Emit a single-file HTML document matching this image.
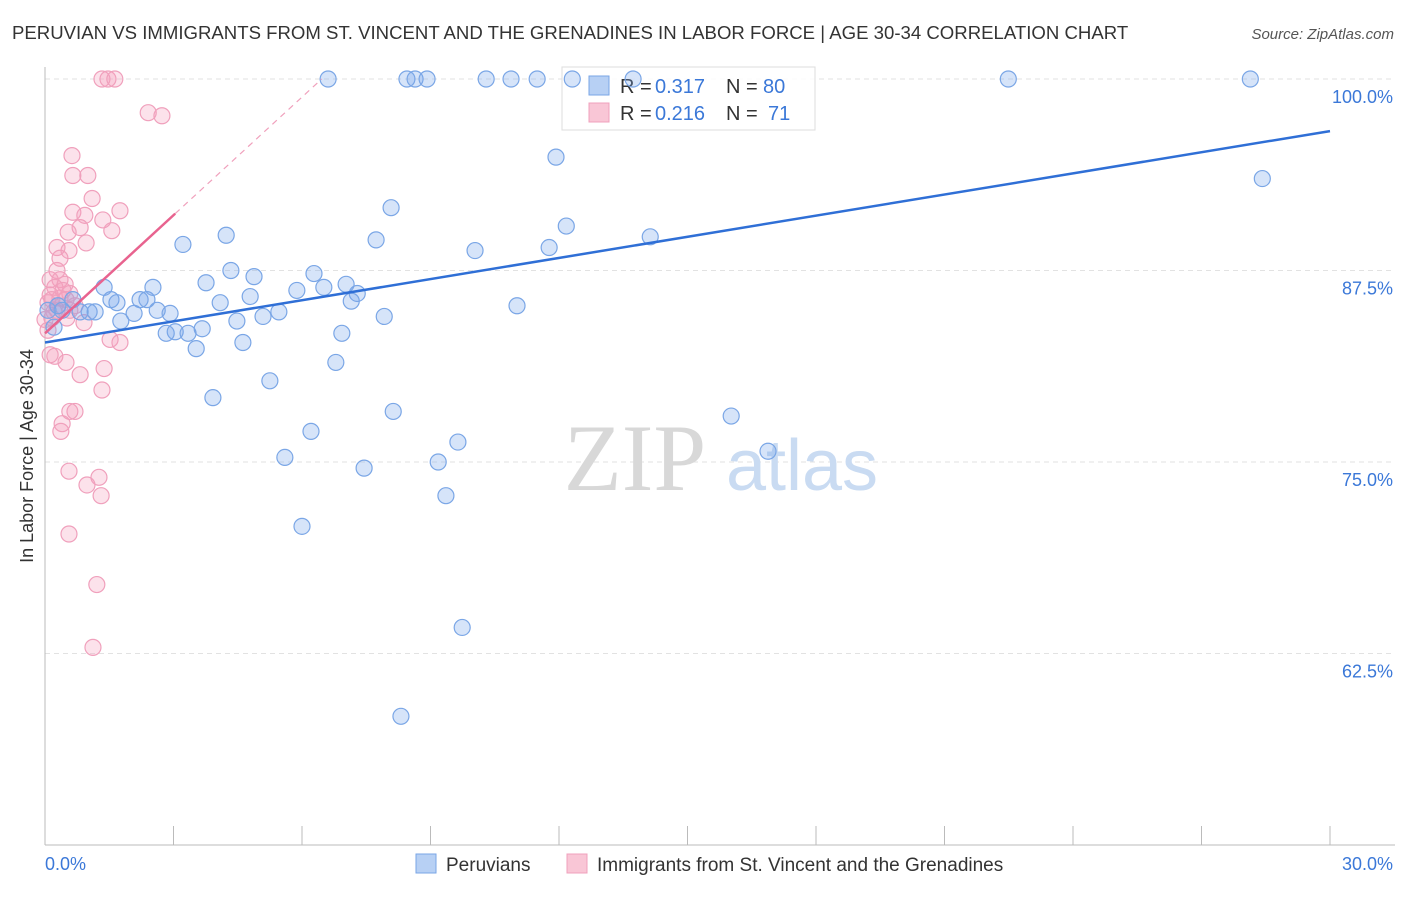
<!DOCTYPE html>
<html><head><meta charset="utf-8">
<style>
body{margin:0;background:#fff;font-family:"Liberation Sans",sans-serif;}
svg text{font-family:"Liberation Sans",sans-serif;}
</style></head>
<body>
<svg id="chart" width="1406" height="892" xmlns="http://www.w3.org/2000/svg">
<text x="12" y="39" font-size="18.6" fill="#333">PERUVIAN VS IMMIGRANTS FROM ST. VINCENT AND THE GRENADINES IN LABOR FORCE | AGE 30-34 CORRELATION CHART</text>
<text x="1394" y="39" font-size="15" fill="#555" text-anchor="end" font-style="italic">Source: ZipAtlas.com</text>
<text transform="translate(33,456) rotate(-90)" font-size="18" fill="#333" text-anchor="middle">In Labor Force | Age 30-34</text>
<g id="grid"></g>
<g>
<text x="635" y="490" font-size="95" fill="#d8d8d8" style="font-family:'Liberation Serif',serif" text-anchor="middle">ZIP</text>
<text x="802" y="490" font-size="72" fill="#c9dbf2" text-anchor="middle">atlas</text>
</g>
<g>
<rect x="562" y="67" width="253" height="63" fill="rgba(255,255,255,0.85)" stroke="#ddd"/>
<rect x="589" y="76" width="20" height="19" fill="#b7d0f4" stroke="#7aa6e6"/>
<rect x="589" y="103" width="20" height="19" fill="#f9c6d6" stroke="#f0a0bc"/>
<text x="620" y="93" font-size="20" fill="#333">R =</text>
<text x="655" y="93" font-size="20" fill="#3b78d8">0.317</text>
<text x="726" y="93" font-size="20" fill="#333">N =</text>
<text x="763" y="93" font-size="20" fill="#3b78d8">80</text>
<text x="620" y="120" font-size="20" fill="#333">R =</text>
<text x="655" y="120" font-size="20" fill="#3b78d8">0.216</text>
<text x="726" y="120" font-size="20" fill="#333">N =</text>
<text x="768" y="120" font-size="20" fill="#3b78d8">71</text>
</g>
<g id="axes"></g>
<g id="pts"></g>
<g id="trends"></g>
<g>
<rect x="416" y="854" width="20" height="19" fill="#b7d0f4" stroke="#7aa6e6"/>
<text x="446" y="871" font-size="19" fill="#333">Peruvians</text>
<rect x="567" y="854" width="20" height="19" fill="#f9c6d6" stroke="#f0a0bc"/>
<text x="597" y="871" font-size="19" fill="#333">Immigrants from St. Vincent and the Grenadines</text>
</g>
</svg>
<script>
const blueX=[6.61,8.45,8.64,8.92,10.30,10.88,11.49,12.31,13.73,22.49,28.14,11.93,28.42,8.08,12.17,4.23,7.73,14.13,3.22,10.04,11.77,4.34,4.88,6.28,3.76,2.52,1.38,5.88,6.51,7.03,7.29,7.15,4.79,4.09,1.54,2.22,2.38,1.68,0.65,0.30,1.03,1.17,2.08,2.62,2.92,5.09,5.46,4.48,1.77,7.92,11.02,3.67,3.04,2.83,3.34,6.93,4.62,3.53,0.21,6.79,5.25,3.92,8.13,16.02,6.21,9.64,16.88,5.60,9.18,7.45,9.36,6.00,9.74,8.31,0.07,0.40,0.82];
const blueY=[100,100,100,100,100,100,100,100,100,100,100,94.9,93.5,91.6,90.4,89.8,89.5,89.7,89.2,88.8,89.0,87.5,87.1,87.3,86.7,86.4,86.4,86.2,86.4,86.6,86.0,85.5,85.8,85.4,85.6,85.6,85.6,85.4,85.6,85.2,84.8,84.8,84.7,84.9,84.7,84.5,84.8,84.2,84.2,84.5,85.2,83.7,83.5,83.4,83.4,83.4,82.8,82.4,83.8,81.5,80.3,79.2,78.3,78.0,77.0,76.3,75.7,75.3,75.0,74.6,72.8,70.8,64.2,58.4,84.9,84.9,84.8];
const pinkX=[1.33,1.47,1.63,2.41,2.73,0.63,0.65,1.00,1.10,1.75,0.65,0.93,1.35,1.56,0.82,0.54,0.28,0.56,0.96,0.35,0.28,0.35,0.12,0.23,0.47,0.58,0.12,0.35,0.07,0.49,0.70,0.28,0.16,0.91,0.51,1.52,1.75,0.23,0.12,0.49,1.38,0.82,1.33,0.70,0.58,0.40,0.37,0.56,1.26,0.98,1.31,0.56,1.21,1.12,0.16,0.21,0.42,0.58,0,0.07];
const pinkY=[100,100,100,97.8,97.6,95.0,93.7,93.7,92.2,91.4,91.3,91.1,90.8,90.1,90.3,90.0,89.0,88.8,89.3,88.3,87.5,86.9,86.9,86.4,86.6,86.0,85.9,85.7,85.4,85.6,85.2,84.9,84.4,84.1,84.4,83.0,82.8,81.9,82.0,81.5,81.1,80.7,79.7,78.3,78.3,77.5,77.0,74.4,74.0,73.5,72.8,70.3,67.0,62.9,85.6,84.8,86.2,84.9,84.3,83.6];
const blueTrend=[82.8,96.6];
const pinkTrend=[83.4,2.57];
const yTicks=[100,87.5,75,62.5];
const yTickLabels=["100.0%","87.5%","75.0%","62.5%"];
const xTicks=[0,3,6,9,12,15,18,21,24,27,30];

const NS="http://www.w3.org/2000/svg";
const sx=v=>45+v/30*1285;
const sy=v=>79+(100-v)/12.5*191.5;
function mk(tag,attrs,parent){const e=document.createElementNS(NS,tag);for(const k in attrs)e.setAttribute(k,attrs[k]);parent.appendChild(e);return e;}
const grid=document.getElementById('grid'),axes=document.getElementById('axes'),pts=document.getElementById('pts'),tr=document.getElementById('trends');
yTicks.forEach((t,i)=>{
 const l=mk('line',{x1:45,x2:1395,y1:sy(t),y2:sy(t),stroke:'#e2e2e2','stroke-dasharray':'5,4'},grid);
 
 
 const tx=mk('text',{x:1393,y:sy(t)+24,'font-size':18,fill:'#3b78d8','text-anchor':'end'},axes);
 tx.textContent=yTickLabels[i];
 
 
});
mk('line',{x1:45,x2:45,y1:67,y2:845,stroke:'#bbb'},axes);
mk('line',{x1:45,x2:1395,y1:845,y2:845,stroke:'#bbb'},axes);
xTicks.forEach(t=>{
 const l=mk('line',{x1:sx(t),x2:sx(t),y1:826,y2:845,stroke:'#bbb'},axes);
 
 
});
const xl0=mk('text',{x:45,y:870,'font-size':18,fill:'#3b78d8'},axes);xl0.textContent='0.0%';


const xl1=mk('text',{x:1393,y:870,'font-size':18,fill:'#3b78d8','text-anchor':'end'},axes);xl1.textContent='30.0%';


pinkX.forEach((x,i)=>{
 const c=mk('circle',{cx:sx(x),cy:sy(pinkY[i]),r:8,fill:'rgba(244,160,190,0.3)',stroke:'#f0a0bc','stroke-width':1.2},pts);
 
 
});
blueX.forEach((x,i)=>{
 const c=mk('circle',{cx:sx(x),cy:sy(blueY[i]),r:8,fill:'rgba(120,165,235,0.3)',stroke:'#7aa6e6','stroke-width':1.2},pts);
 
 
});
const bl=mk('line',{x1:sx(0),y1:sy(blueTrend[0]),x2:sx(30),y2:sy(blueTrend[1]),stroke:'#2f6fd6','stroke-width':2.5},tr);


const xEnd=(100-pinkTrend[0])/pinkTrend[1];
const pd=mk('line',{x1:sx(3.04),y1:sy(pinkTrend[0]+pinkTrend[1]*3.04),x2:sx(xEnd),y2:sy(100),stroke:'#f0a0bc','stroke-width':1.2,'stroke-dasharray':'6,5'},tr);


const ps=mk('line',{x1:sx(0),y1:sy(pinkTrend[0]),x2:sx(3.04),y2:sy(pinkTrend[0]+pinkTrend[1]*3.04),stroke:'#e8638f','stroke-width':2.5},tr);


</script>
</body></html>
